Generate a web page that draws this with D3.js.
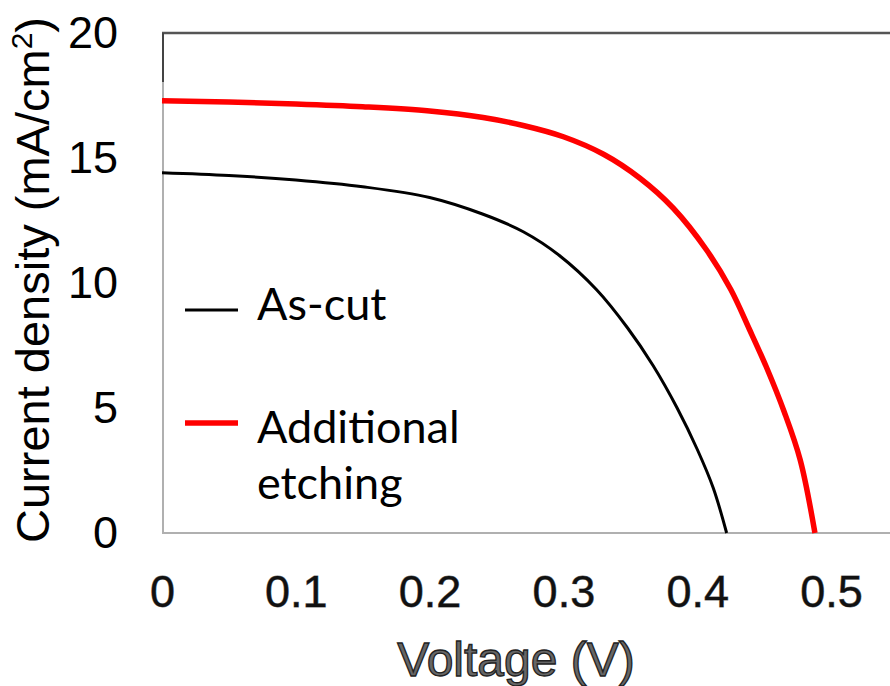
<!DOCTYPE html>
<html>
<head>
<meta charset="utf-8">
<script src="https://cdn.jsdelivr.net/npm/d3@7"></script>
<style>
  body { margin: 0; background: #fff; }
  svg { display: block; }
</style>
</head>
<body>
<div id="container"></div>
<script>
// voltage (V) / current density (mA/cm2)
const asCutV = [0, 0.05, 0.10, 0.15, 0.20, 0.24, 0.27, 0.297, 0.325, 0.348, 0.367, 0.385, 0.40, 0.412, 0.422];
const asCutJ = [14.41, 14.3, 14.12, 13.85, 13.42, 12.75, 12.05, 11.1, 9.72, 8.2, 6.7, 5.0, 3.35, 1.8, 0];

const etchV = [0, 0.05, 0.10, 0.15, 0.20, 0.24, 0.27, 0.30, 0.33, 0.357, 0.382, 0.407, 0.425, 0.439, 0.452, 0.465, 0.477, 0.488];
const etchJ = [17.29, 17.24, 17.16, 17.05, 16.88, 16.62, 16.3, 15.85, 15.15, 14.2, 13.0, 11.32, 9.75, 8.15, 6.6, 4.85, 2.92, 0];

const xTicks = [0, 0.1, 0.2, 0.3, 0.4, 0.5];
const yTicks = [0, 5, 10, 15, 20];
const seriesNames = ["As-cut", "Additional etching"];

const width = 890, height = 686;
const plotL = 162, plotR = 890, plotT = 33, plotB = 533;

const x = d3.scaleLinear().domain([0, 0.5]).range([162, 831]);
const y = d3.scaleLinear().domain([0, 20]).range([plotB, plotT]);

const svg = d3.select("#container").append("svg")
  .attr("width", width).attr("height", height)
  .style("font-family", "'Liberation Sans', Arial, sans-serif");

// frame
svg.append("line").attr("x1", plotL).attr("x2", plotR).attr("y1", plotT).attr("y2", plotT)
  .attr("stroke", "#555").attr("stroke-width", 2.5);
svg.append("line").attr("x1", plotL).attr("x2", plotR).attr("y1", plotB).attr("y2", plotB)
  .attr("stroke", "#b0b0b0").attr("stroke-width", 2);
svg.append("line").attr("x1", plotL + 1).attr("x2", plotL + 1).attr("y1", plotT).attr("y2", plotB)
  .attr("stroke", "#b0b0b0").attr("stroke-width", 2);
svg.append("line").attr("x1", plotL + 1).attr("x2", plotL + 1).attr("y1", plotT).attr("y2", 82)
  .attr("stroke", "#444").attr("stroke-width", 2);

// axes
const xAxis = svg.append("g").attr("transform", `translate(0,${plotB})`)
  .call(d3.axisBottom(x).tickValues(xTicks).tickSize(0).tickPadding(42)
    .tickFormat(d => d === 0 ? "0" : d3.format(".1f")(d)));
const yAxis = svg.append("g").attr("transform", `translate(${plotL},0)`)
  .call(d3.axisLeft(y).tickValues(yTicks).tickSize(0).tickPadding(44));
[xAxis, yAxis].forEach(g => {
  g.select(".domain").remove();
  g.selectAll("text")
    .attr("font-family", "'Liberation Sans', Arial, sans-serif")
    .attr("font-size", 45)
    .attr("fill", "#111")
    .attr("stroke", "#777").attr("stroke-width", 0.8)
    .style("paint-order", "stroke");
});
yAxis.selectAll("text").attr("stroke", "none").attr("fill", "#000");

// axis titles
svg.append("text")
  .attr("x", 516).attr("y", 676)
  .attr("text-anchor", "middle")
  .attr("font-size", 48)
  .attr("fill", "#666").attr("stroke", "#222").attr("stroke-width", 1.3)
  .text("Voltage (V)");

const yt = svg.append("text")
  .attr("transform", "translate(49,280) rotate(-90)")
  .attr("text-anchor", "middle")
  .attr("font-size", 47)
  .attr("fill", "#000");
yt.append("tspan").text("Current density (mA/cm");
yt.append("tspan").attr("font-size", 30).attr("dy", -17).text("2");
yt.append("tspan").attr("dy", 17).text(")");

// curves
const line = d3.line().x(d => x(d[0])).y(d => y(d[1])).curve(d3.curveCatmullRom.alpha(0.5));
svg.append("path")
  .datum(asCutV.map((v, i) => [v, asCutJ[i]]))
  .attr("d", line).attr("fill", "none").attr("stroke", "#000").attr("stroke-width", 3);
svg.append("path")
  .datum(etchV.map((v, i) => [v, etchJ[i]]))
  .attr("d", line).attr("fill", "none").attr("stroke", "#ff0000").attr("stroke-width", 5.5);

// legend
const legendFont = "Lato, 'Open Sans', sans-serif";
svg.append("line").attr("x1", 185).attr("x2", 238).attr("y1", 310).attr("y2", 310)
  .attr("stroke", "#000").attr("stroke-width", 3);
svg.append("text").attr("x", 257).attr("y", 320)
  .attr("font-family", legendFont).attr("font-size", 45).attr("fill", "#000")
  .text(seriesNames[0]);
svg.append("line").attr("x1", 185).attr("x2", 238).attr("y1", 423).attr("y2", 423)
  .attr("stroke", "#ff0000").attr("stroke-width", 5.5);
const lt = svg.append("text")
  .attr("font-family", legendFont).attr("font-size", 45).attr("fill", "#000");
const words = seriesNames[1].split(" ");
lt.append("tspan").attr("x", 257).attr("y", 443).text(words[0]);
lt.append("tspan").attr("x", 257).attr("y", 499).text(words[1]);
</script>
</body>
</html>
